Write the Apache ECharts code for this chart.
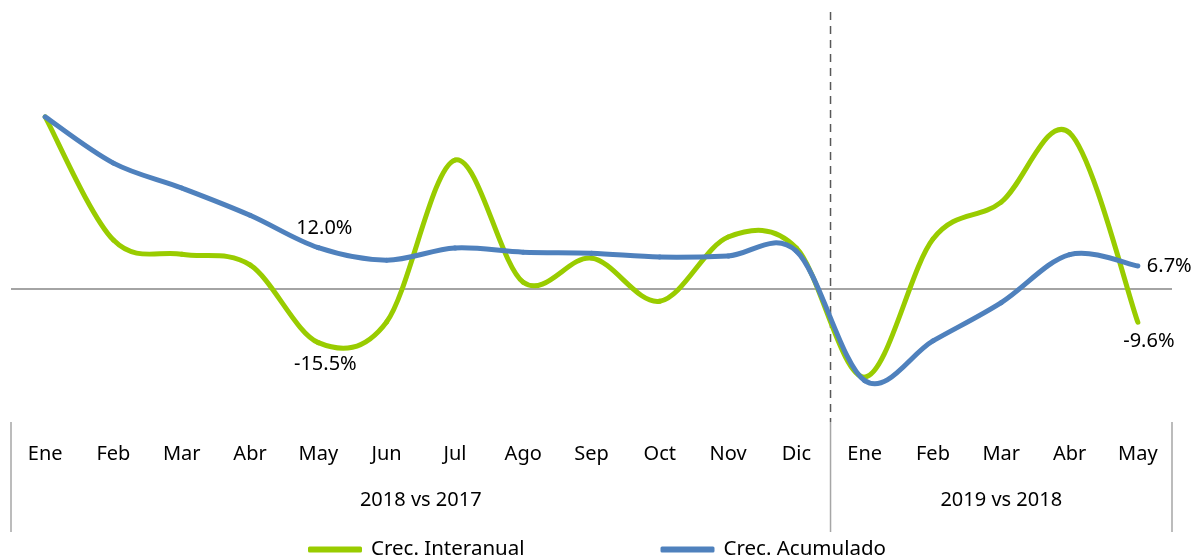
<!DOCTYPE html>
<html>
<head>
<meta charset="utf-8">
<script src="https://cdn.jsdelivr.net/npm/echarts@6/dist/echarts.min.js"></script>
<style>
html,body{margin:0;padding:0;background:#fff;}
#chart{width:1198px;height:559px;}
</style>
</head>
<body>
<div id="chart"></div>
<script>
const categories = ['Ene','Feb','Mar','Abr','May','Jun','Jul','Ago','Sep','Oct','Nov','Dic','Ene','Feb','Mar','Abr','May'];
const groupNames = ['2018 vs 2017','2019 vs 2018'];
const groupSizes = [12, 5];
const interanual = [49.9, 14.2, 10.1, 7.0, -15.5, -9.5, 37.4, 2.0, 9.0, -3.5, 15.1, 11.9, -25.5, 14.5, 25.2, 45.3, -9.6];
const acumulado  = [49.9, 36.5, 29.3, 21.4, 12.0, 8.4, 11.9, 10.7, 10.4, 9.3, 9.6, 11.0, -26.5, -15.0, -3.9, 10.0, 6.7];
// which points carry a value label, and where
const labelsGreen = {4: {pos: 'bottom', dx: 7, dy: 3}, 16: {pos: 'bottom', dx: 11, dy: 0}};
const labelsBlue  = {4: {pos: 'top', dx: 6, dy: 0}, 16: {pos: 'right', dx: 0, dy: 0}};

const FONT = 'Noto Sans';
const GREEN = '#99cc00';
const BLUE = '#4f81bd';
const Y_MIN = -38.5, Y_MAX = 80;

function fmt(v){ return v.toFixed(1) + '%'; }

// Smoothed line (Catmull-Rom style, like the spreadsheet's smoothed lines), drawn through the axis scales
function makeRender(values, labels, color){
  return function(params, api){
    const i = params.dataIndex;
    const n = values.length;
    const P = k => { k = Math.max(0, Math.min(n - 1, k)); return api.coord([k, values[k]]); };
    const children = [];
    if (i < n - 1) {
      const p0 = P(i - 1), p1 = P(i), p2 = P(i + 1), p3 = P(i + 2);
      children.push({
        type: 'bezierCurve',
        shape: {
          x1: p1[0], y1: p1[1], x2: p2[0], y2: p2[1],
          cpx1: p1[0] + (p2[0] - p0[0]) / 6, cpy1: p1[1] + (p2[1] - p0[1]) / 6,
          cpx2: p2[0] - (p3[0] - p1[0]) / 6, cpy2: p2[1] - (p3[1] - p1[1]) / 6
        },
        style: {stroke: color, lineWidth: 5, fill: null, lineCap: 'round'}
      });
    }
    const lab = labels[i];
    if (lab) {
      const p = P(i);
      let x = p[0] + lab.dx, y = p[1] + lab.dy, align = 'center', va = 'middle';
      if (lab.pos === 'top') { y -= 9; va = 'bottom'; }
      else if (lab.pos === 'bottom') { y += 9; va = 'top'; }
      else if (lab.pos === 'right') { x += 9; align = 'left'; }
      children.push({
        type: 'text', x: x, y: y, z2: 10,
        style: {text: fmt(values[i]), fontFamily: FONT, fontSize: 20, fill: '#000', align: align, verticalAlign: va}
      });
    }
    return {type: 'group', children: children};
  };
}

const chart = echarts.init(document.getElementById('chart'));
const option = {
  animation: false,
  textStyle: {fontFamily: FONT},
  grid: {left: 11, right: 26, top: 13, bottom: 137, containLabel: false},
  legend: {
    data: ['Crec. Interanual', 'Crec. Acumulado'],
    left: 308, top: 539, itemWidth: 54, itemHeight: 6, itemGap: 136,
    icon: 'roundRect', padding: 0,
    textStyle: {fontFamily: FONT, fontSize: 20.5, color: '#000', padding: [0, 0, 0, 4]}
  },
  xAxis: {
    type: 'category', data: categories, boundaryGap: true,
    axisLine: {show: false}, axisTick: {show: false}, splitLine: {show: false},
    axisLabel: {interval: 0, margin: 22, fontFamily: FONT, fontSize: 20, color: '#000'}
  },
  yAxis: {
    type: 'value', min: Y_MIN, max: Y_MAX, show: false,
    splitLine: {show: false}
  },
  series: [
    {
      name: 'Crec. Interanual', type: 'custom', clip: false, z: 3,
      itemStyle: {color: GREEN},
      encode: {x: 0, y: 1},
      data: interanual.map((v, i) => [i, v]),
      renderItem: makeRender(interanual, labelsGreen, GREEN)
    },
    {
      name: 'Crec. Acumulado', type: 'custom', clip: false, z: 4,
      itemStyle: {color: BLUE},
      encode: {x: 0, y: 1},
      data: acumulado.map((v, i) => [i, v]),
      renderItem: makeRender(acumulado, labelsBlue, BLUE)
    }
  ]
};
chart.setOption(option);

// Zero line, category group separators and group labels, positioned from the axis scales
const x0 = chart.convertToPixel({xAxisIndex: 0}, 0);
const x1 = chart.convertToPixel({xAxisIndex: 0}, 1);
const band = x1 - x0;
const yTop = chart.convertToPixel({yAxisIndex: 0}, Y_MAX);
const yBot = chart.convertToPixel({yAxisIndex: 0}, Y_MIN);
const yZero = chart.convertToPixel({yAxisIndex: 0}, 0);
const elements = [];
let start = 0;
const bounds = [x0 - band / 2];
groupSizes.forEach(n => { start += n; bounds.push(x0 - band / 2 + start * band); });
elements.push({type: 'line', z: -1, shape: {x1: bounds[0], y1: yZero, x2: bounds[bounds.length - 1], y2: yZero},
  style: {stroke: '#868686', lineWidth: 1.5}, silent: true});
bounds.forEach((bx, i) => {
  elements.push({type: 'line', shape: {x1: bx, y1: yBot, x2: bx, y2: yBot + 110},
    style: {stroke: '#a6a6a6', lineWidth: 1.5}, silent: true});
  if (i > 0 && i < bounds.length - 1) {
    elements.push({type: 'line', shape: {x1: bx, y1: yTop - 1, x2: bx, y2: yBot},
      style: {stroke: '#595959', lineWidth: 1.5, lineDash: [8, 6]}, silent: true});
  }
});
groupNames.forEach((g, i) => {
  const cx = (bounds[i] + bounds[i + 1]) / 2;
  elements.push({type: 'text', x: cx, y: yBot + 78, silent: true,
    style: {text: g, fontFamily: FONT, fontSize: 20, fill: '#000', align: 'center', verticalAlign: 'middle'}});
});
chart.setOption({graphic: {elements: elements}});
</script>
</body>
</html>
